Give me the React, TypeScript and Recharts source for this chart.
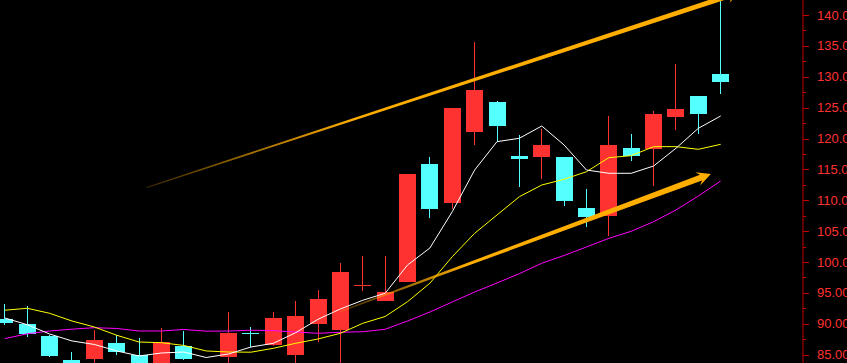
import React from 'react';
import {
  Bar,
  Line,
  XAxis,
  YAxis,
  ComposedChart,
  ReferenceLine,
  ReferenceDot,
} from 'recharts';

// OHLC (index = candle slot from the left)
const opens = [
  90.8, 90.0, 88.1, 84.1, 84.3, 86.9, 84.95, 83.3, 86.4, 83.5, 84.6, 88.5,
  86.6, 85.0, 90.0, 89.0, 96.25, 93.75, 96.8, 115.85, 109.6, 121.1, 125.9,
  117.15, 117.05, 117.0, 108.75, 107.5, 118.45, 118.3, 123.5, 126.9, 130.45,
];
const highs = [
  93.2, 92.9, 88.25, 85.45, 89.0, 88.25, 87.7, 89.3, 88.9, 83.6, 91.9, 89.45,
  91.9, 93.7, 95.5, 99.85, 101.0, 101.0, 114.3, 117.0, 125.0, 135.6, 126.0,
  120.55, 121.55, 117.0, 111.85, 123.65, 120.75, 124.45, 132.05, 126.9, 142.6,
];
const lows = [
  89.85, 87.8, 84.65, 82.4, 83.3, 84.95, 83.2, 83.0, 84.15, 82.4, 83.3, 86.2,
  86.4, 83.5, 87.1, 83.5, 95.35, 93.7, 96.8, 107.2, 108.65, 119.0, 119.5,
  112.2, 113.45, 109.1, 105.6, 104.25, 116.4, 112.3, 121.4, 120.8, 127.25,
];
const closes = [
  90.2, 88.35, 84.85, 83.0, 87.4, 85.5, 83.5, 87.05, 84.3, 82.9, 88.5, 88.45,
  90.95, 91.25, 94.0, 98.4, 96.3, 95.15, 114.25, 108.65, 124.95, 127.85, 122.1,
  116.75, 118.95, 109.95, 107.35, 118.95, 117.2, 123.95, 124.8, 124.0, 129.2,
];

// moving averages as drawn (white, yellow, magenta)
const ma5 = [
  90.94, 89.85, 88.35, 87.22, 86.65, 85.6, 84.79, 85.27, 85.43, 84.54, 85.11,
  86.24, 86.84, 88.56, 90.73, 92.4, 93.81, 94.94, 99.52, 102.27, 108.15, 114.9,
  119.49, 120.04, 122.03, 118.95, 114.9, 114.37, 114.37, 115.55, 118.42,
  121.65, 123.65,
];
const ma10 = [
  92.2, 92.51, 91.7, 90.45, 89.48, 88.14, 87.05, 86.94, 86.49, 85.6, 85.43,
  85.4, 86.03, 86.84, 87.54, 88.46, 90.08, 91.18, 93.58, 96.57, 100.86, 104.65,
  107.62, 110.58, 112.47, 113.4, 114.63, 116.9, 117.22, 118.68, 118.68, 118.25,
  119.06,
];
const ma20 = [
  87.6, 88.38, 88.83, 89.13, 89.37, 89.24, 88.83, 88.83, 89.08, 88.8, 88.83,
  88.96, 88.88, 88.67, 88.46, 88.62, 88.72, 89.11, 90.45, 91.91, 93.53, 95.15,
  96.61, 98.12, 99.8, 101.06, 102.44, 103.84, 104.98, 106.53, 108.43, 110.69,
  113.12,
];

const yTicks = [
  85, 87.5, 90, 92.5, 95, 97.5, 100, 102.5, 105, 107.5, 110, 112.5, 115, 117.5,
  120, 122.5, 125, 127.5, 130, 132.5, 135, 137.5, 140,
];
const slotCount = 36;

// hand drawn trend arrows (slot index, price)
const topArrow = [
  { x: 6.34, y: 112.07 },
  { x: 32.86, y: 143.68 },
];
const bottomArrow = [
  { x: 14.98, y: 91.96 },
  { x: 31.56, y: 114.26 },
];

const UP = '#ff3232';
const DOWN = '#54ffff';
const AXIS = '#c40000';
const ORANGE = '#ffae00';

const data = Array.from({ length: slotCount }, (_, i) =>
  i < opens.length
    ? {
        i,
        open: opens[i],
        high: highs[i],
        low: lows[i],
        close: closes[i],
        ma5: ma5[i],
        ma10: ma10[i],
        ma20: ma20[i],
      }
    : { i },
);

const Candle = (props: any) => {
  const { x, y, width, height, payload } = props;
  if (!payload || payload.open == null) return null;
  const { open, close, high, low } = payload;
  const color = close >= open ? UP : DOWN;
  const span = high - low || 1;
  const py = (v: number) => y + ((high - v) / span) * height;
  const cx = Math.floor(x + width / 2);
  const top = Math.round(py(Math.max(open, close)));
  const bot = Math.round(py(Math.min(open, close)));
  return (
    <g shapeRendering="crispEdges">
      <rect x={cx} y={y} width={1} height={height} fill={color} />
      <rect
        x={cx - 8}
        y={top}
        width={17}
        height={Math.max(1, bot - top)}
        fill={color}
      />
    </g>
  );
};

const AxisTick = (props: any) => {
  const { x, y, payload } = props;
  const v = payload.value;
  const major = Math.abs(v % 5) < 1e-6;
  const yy = Math.round(y) + 0.5;
  return (
    <g>
      <line
        x1={x}
        x2={x + (major ? 6 : 3)}
        y1={yy}
        y2={yy}
        stroke={AXIS}
        shapeRendering="crispEdges"
      />
      {major && (
        <text
          x={x + 14}
          y={y}
          dy={4.5}
          fill={UP}
          fontSize={13}
          fontFamily="'Liberation Sans', Arial, sans-serif"
        >
          {v.toFixed(2)}
        </text>
      )}
    </g>
  );
};

// tapered arrow that fades in from its tail
const makeArrow =
  (id: string, w0: number, w1: number, headLen: number, headW: number) =>
  (props: any) => {
    const { x1, y1, x2, y2 } = props;
    const dx = x2 - x1;
    const dy = y2 - y1;
    const len = Math.hypot(dx, dy);
    const ux = dx / len;
    const uy = dy / len;
    const nx = -uy;
    const ny = ux;
    const bx = x2 - ux * headLen * 0.75;
    const by = y2 - uy * headLen * 0.75;
    const hx = x2 - ux * headLen;
    const hy = y2 - uy * headLen;
    const pts = [
      [x1 + nx * w0, y1 + ny * w0],
      [bx + nx * w1, by + ny * w1],
      [hx + nx * headW, hy + ny * headW],
      [x2, y2],
      [hx - nx * headW, hy - ny * headW],
      [bx - nx * w1, by - ny * w1],
      [x1 - nx * w0, y1 - ny * w0],
    ]
      .map((p) => p.join(','))
      .join(' ');
    return (
      <g>
        <defs>
          <linearGradient
            id={id}
            gradientUnits="userSpaceOnUse"
            x1={x1}
            y1={y1}
            x2={x2}
            y2={y2}
          >
            <stop offset="0" stopColor={ORANGE} stopOpacity={0.25} />
            <stop offset="0.35" stopColor={ORANGE} stopOpacity={1} />
            <stop offset="1" stopColor={ORANGE} stopOpacity={1} />
          </linearGradient>
        </defs>
        <polygon points={pts} fill={`url(#${id})`} />
      </g>
    );
  };

const HighLabel = (props: any) => {
  const { cx, cy } = props;
  return (
    <text
      x={cx + 16}
      y={cy + 1.4}
      fill="#c8c8c8"
      fontSize={12}
      fontFamily="'Liberation Sans', Arial, sans-serif"
    >
      {highs[highs.length - 1].toFixed(2)}
    </text>
  );
};

export default function App() {
  return (
    <div
      style={{
        position: 'fixed',
        left: 0,
        top: 0,
        width: 847,
        height: 363,
        background: '#000',
        overflow: 'hidden',
      }}
    >
      <ComposedChart
        width={847}
        height={363}
        data={data}
        margin={{ top: 0, right: 0, bottom: 0, left: -6.3 }}
        barCategoryGap={2.68}
      >
        <XAxis dataKey="i" hide padding={{ left: 0, right: 4 }} />
        <XAxis
          xAxisId="n"
          dataKey="i"
          type="number"
          hide
          domain={[-0.5, slotCount - 0.5]}
          allowDataOverflow
          padding={{ left: 0, right: 4 }}
        />
        <YAxis
          orientation="right"
          width={44}
          domain={[83.65, 142.43]}
          allowDataOverflow
          ticks={yTicks}
          interval={0}
          tickLine={false}
          tickSize={0}
          tickMargin={0}
          tick={<AxisTick />}
          axisLine={{ stroke: AXIS }}
        />
        <Bar
          dataKey={(d: any) => (d.low == null ? null : [d.low, d.high])}
          shape={<Candle />}
          activeBar={false}
          isAnimationActive={false}
        />
        <Line
          dataKey="ma20"
          stroke="#ff00ff"
          strokeWidth={1}
          dot={false}
          activeDot={false}
          isAnimationActive={false}
        />
        <Line
          dataKey="ma10"
          stroke="#ffff00"
          strokeWidth={1}
          dot={false}
          activeDot={false}
          isAnimationActive={false}
        />
        <Line
          dataKey="ma5"
          stroke="#ffffff"
          strokeWidth={1}
          dot={false}
          activeDot={false}
          isAnimationActive={false}
        />
        <ReferenceLine
          xAxisId="n"
          segment={topArrow}
          ifOverflow="visible"
          shape={makeArrow('arrTop', 0.5, 2.5, 13, 6.5)}
        />
        <ReferenceLine
          xAxisId="n"
          segment={bottomArrow}
          ifOverflow="visible"
          shape={makeArrow('arrBottom', 0.6, 3, 14, 7)}
        />
        <ReferenceDot
          xAxisId="n"
          x={32}
          y={highs[highs.length - 1]}
          ifOverflow="visible"
          shape={<HighLabel />}
        />
      </ComposedChart>
    </div>
  );
}
